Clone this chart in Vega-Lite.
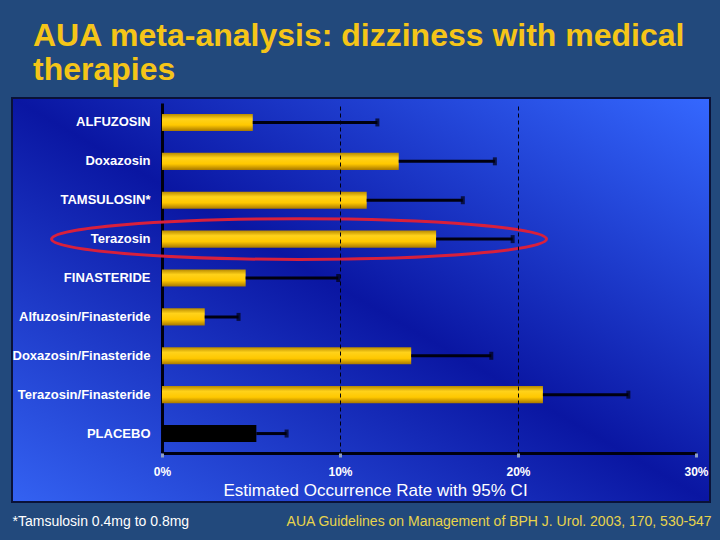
{
  "$schema": "https://vega.github.io/schema/vega-lite/v6.json",
  "width": 698,
  "height": 404,
  "autosize": {"type": "none"},
  "padding": {"left": 12, "top": 98, "right": 10, "bottom": 38},
  "background": "#22497c",
  "view": {
    "fill": {"expr": "{gradient: 'linear', x1: 0, y1: 1, x2: 1, y2: 0, stops: [{offset: 0, color: '#3462f2'}, {offset: 0.5, color: '#0a16a2'}, {offset: 1, color: '#3568ff'}]}"},
    "stroke": "#0a1238",
    "strokeWidth": 2
  },
  "title": {
    "text": ["AUA meta-analysis: dizziness with medical", "therapies"],
    "anchor": "start",
    "frame": "group",
    "dx": 21,
    "font": "Liberation Sans",
    "fontSize": 32,
    "fontWeight": "bold",
    "color": "#f5c518",
    "lineHeight": 34,
    "offset": 11
  },
  "datasets": {
    "rates": [
      {"drug": "ALFUZOSIN", "rate": 5.1, "upper": 12.1},
      {"drug": "Doxazosin", "rate": 13.3, "upper": 18.7},
      {"drug": "TAMSULOSIN*", "rate": 11.5, "upper": 16.9},
      {"drug": "Terazosin", "rate": 15.4, "upper": 19.7},
      {"drug": "FINASTERIDE", "rate": 4.7, "upper": 9.9},
      {"drug": "Alfuzosin/Finasteride", "rate": 2.4, "upper": 4.3},
      {"drug": "Doxazosin/Finasteride", "rate": 14.0, "upper": 18.5},
      {"drug": "Terazosin/Finasteride", "rate": 21.4, "upper": 26.2},
      {"drug": "PLACEBO", "rate": 5.3, "upper": 7.0}
    ],
    "highlight": [
      {"drug": "Terazosin", "center": 7.7}
    ]
  },
  "data": {"name": "rates"},
  "resolve": {"axis": {"y": "independent", "x": "independent"}},
  "layer": [
    {
      "transform": [{"filter": "datum.drug !== 'PLACEBO'"}],
      "mark": {
        "type": "bar",
        "color": {
          "gradient": "linear", "x1": 0, "y1": 0, "x2": 0, "y2": 1,
          "stops": [
            {"offset": 0, "color": "#b88a00"},
            {"offset": 0.3, "color": "#ffd21a"},
            {"offset": 0.65, "color": "#ffc800"},
            {"offset": 1, "color": "#a87800"}
          ]
        }
      },
      "encoding": {
        "y": {
          "field": "drug",
          "type": "nominal",
          "sort": null,
          "scale": {
            "domain": ["ALFUZOSIN", "Doxazosin", "TAMSULOSIN*", "Terazosin", "FINASTERIDE", "Alfuzosin/Finasteride", "Doxazosin/Finasteride", "Terazosin/Finasteride", "PLACEBO"],
            "range": [5, 355],
            "paddingInner": 0.56,
            "paddingOuter": 0.28
          },
          "axis": {
            "orient": "left",
            "offset": -150,
            "domainColor": "#000010",
            "domainWidth": 3,
            "ticks": false,
            "grid": false,
            "labelColor": "white",
            "labelFont": "Liberation Sans",
            "labelFontWeight": "bold",
            "labelFontSize": 13,
            "labelPadding": 12,
            "title": "*Tamsulosin 0.4mg to 0.8mg",
            "titleColor": "white",
            "titleFont": "Liberation Sans",
            "titleFontWeight": "normal",
            "titleFontSize": 14,
            "titleAngle": 0,
            "titleAlign": "left",
            "titleBaseline": "middle",
            "titleX": -150,
            "titleY": 423
          }
        },
        "x": {
          "field": "rate",
          "type": "quantitative",
          "scale": {"domain": [0, 30], "range": [150, 684], "nice": false},
          "axis": {
            "orient": "bottom",
            "values": [0, 10, 20, 30],
            "labelExpr": "datum.value + '%'",
            "labelFlush": false,
            "offset": -49,
            "domain": true,
            "domainColor": "#000010",
            "domainWidth": 3,
            "ticks": true,
            "tickColor": "#000010",
            "tickSize": -350,
            "tickWidth": 1,
            "tickDash": [4, 3],
            "tickOpacity": {"condition": {"test": "datum.value == 10 || datum.value == 20", "value": 1}, "value": 0},
            "labels": true,
            "labelColor": "white",
            "labelFont": "Liberation Sans",
            "labelFontWeight": "bold",
            "labelFontSize": 12,
            "labelPadding": 363,
            "grid": false,
            "zindex": 1,
            "title": "Estimated Occurrence Rate with 95% CI",
            "titleColor": "white",
            "titleFont": "Liberation Sans",
            "titleFontWeight": "normal",
            "titleFontSize": 17,
            "titleAlign": "center",
            "titleBaseline": "middle",
            "titleX": 363,
            "titleY": 37
          }
        }
      }
    },
    {
      "transform": [{"filter": "datum.drug === 'PLACEBO'"}],
      "mark": {"type": "bar", "color": "#000000"},
      "encoding": {
        "y": {"field": "drug", "type": "nominal", "sort": null, "axis": null},
        "x": {"field": "rate", "type": "quantitative", "axis": null}
      }
    },
    {
      "mark": {"type": "rule", "color": "#000010", "strokeWidth": 3},
      "encoding": {
        "y": {"field": "drug", "type": "nominal", "sort": null, "axis": null},
        "x": {"field": "rate", "type": "quantitative", "axis": null},
        "x2": {"field": "upper"}
      }
    },
    {
      "mark": {"type": "tick", "color": "#000010", "thickness": 4, "size": 8},
      "encoding": {
        "y": {
          "field": "drug",
          "type": "nominal",
          "sort": null,
          "axis": {
            "orient": "right",
            "labels": false,
            "ticks": false,
            "domain": false,
            "grid": false,
            "title": "AUA Guidelines on Management of BPH J. Urol. 2003, 170, 530-547",
            "titleColor": "#e8d44c",
            "titleFont": "Liberation Sans",
            "titleFontWeight": "normal",
            "titleFontSize": 14,
            "titleAngle": 0,
            "titleAlign": "right",
            "titleBaseline": "middle",
            "titleX": 1,
            "titleY": 423
          }
        },
        "x": {
          "field": "upper",
          "type": "quantitative",
          "axis": {
            "orient": "bottom",
            "values": [0, 10, 20, 30],
            "offset": -49,
            "domain": false,
            "labels": false,
            "grid": false,
            "ticks": true,
            "tickColor": "#8f9fc4",
            "tickSize": 4,
            "tickWidth": 3,
            "title": null,
            "zindex": 2
          }
        }
      }
    },
    {
      "data": {"name": "highlight"},
      "mark": {
        "type": "point",
        "shape": "M-1,0A1,0.082,0,1,1,1,0A1,0.082,0,1,1,-1,0Z",
        "size": 245000,
        "filled": false,
        "stroke": "#d8203c",
        "strokeWidth": 3,
        "opacity": 1
      },
      "encoding": {
        "y": {"field": "drug", "type": "nominal", "sort": null, "axis": null},
        "x": {"field": "center", "type": "quantitative", "axis": null}
      }
    }
  ]
}
